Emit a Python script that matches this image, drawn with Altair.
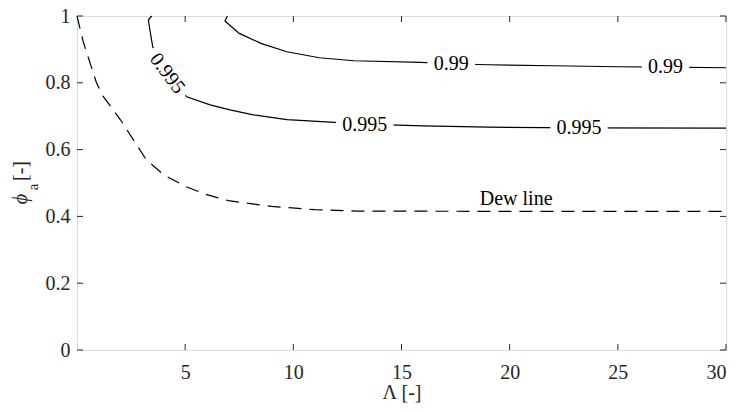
import altair as alt
import pandas as pd

# ---- data ----
dew_x = [0.0, 0.3, 0.9, 1.2, 2.0, 2.6, 3.2, 4.0, 5.0, 6.0, 7.0, 9.0, 11.0, 13.0, 20.0, 30.0]
dew_y = [1.0, 0.92, 0.80, 0.76, 0.69, 0.63, 0.57, 0.525, 0.49, 0.465, 0.447, 0.43, 0.42, 0.416, 0.415, 0.415]

c99_x = [6.95, 6.84, 7.5, 8.5, 9.7, 11.2, 12.8, 15.9, 17.3, 19.0, 22.0, 25.0, 27.2, 30.0]
c99_y = [1.0, 0.985, 0.948, 0.918, 0.893, 0.875, 0.866, 0.861, 0.857, 0.854, 0.851, 0.848, 0.847, 0.845]

c995_x = [3.45, 3.30, 3.37, 3.5, 4.17, 5.07, 6.15, 7.07, 8.15, 9.7, 11.7, 13.3, 16.0, 19.0, 23.2, 30.0]
c995_y = [1.0, 0.988, 0.958, 0.908, 0.828, 0.758, 0.734, 0.719, 0.704, 0.69, 0.682, 0.676, 0.671, 0.667, 0.665, 0.664]

label_text = ["0.995", "0.99", "0.99", "0.995", "0.995"]
label_x = [4.17, 17.3, 27.2, 13.3, 23.2]
label_y = [0.828, 0.856, 0.847, 0.674, 0.665]
label_angle = [53, 0, 0, 0, 0]

dew_label = "Dew line"
dew_label_x = [20.3]
dew_label_y = [0.452]

x_ticks = [5, 10, 15, 20, 25, 30]
y_ticks = [0, 0.2, 0.4, 0.6, 0.8, 1.0]

W, H = 649, 334
FONT = "Liberation Serif"
AX = "#262626"

def frame(xs, ys, name):
    return pd.DataFrame({"x": xs, "y": ys, "i": range(len(xs)), "s": name})

lines_df = pd.concat([frame(c99_x, c99_y, "0.99"), frame(c995_x, c995_y, "0.995")])
dew_df = frame(dew_x, dew_y, "dew")
lab_df = pd.DataFrame({"t": label_text, "x": label_x, "y": label_y, "a": label_angle})
dlab_df = pd.DataFrame({"t": [dew_label], "x": dew_label_x, "y": dew_label_y})
xt_df = pd.DataFrame({"v": x_ticks})
yt_df = pd.DataFrame({"v": y_ticks})

xs = alt.Scale(domain=[0, 30], nice=False, zero=False)
ys = alt.Scale(domain=[0, 1], nice=False, zero=False)

xaxis = alt.Axis(values=x_ticks, format="d", ticks=False, domain=False, grid=False,
                 labelFont=FONT, labelFontSize=20, labelColor=AX, labelPadding=12,
                 title="Λ [-]", titleFont=FONT, titleFontSize=20, titleFontWeight="normal",
                 titleColor=AX, titlePadding=0)
yaxis = alt.Axis(values=y_ticks, ticks=False, domain=False, grid=False,
                 labelFont=FONT, labelFontSize=20, labelColor=AX, labelPadding=7,
                 labelExpr="datum.value == 0 ? '0' : datum.value == 1 ? '1' : format(datum.value, '.1f')",
                 title=None)

base_lines = alt.Chart(lines_df).mark_line(color="black", strokeWidth=1.2).encode(
    x=alt.X("x:Q", scale=xs, axis=xaxis),
    y=alt.Y("y:Q", scale=ys, axis=yaxis),
    detail="s:N",
    order="i:Q",
)

dew = alt.Chart(dew_df).mark_line(color="black", strokeWidth=1.2, strokeDash=[13, 8]).encode(
    x=alt.X("x:Q", scale=xs), y=alt.Y("y:Q", scale=ys), order="i:Q"
)

halo = alt.Chart(lab_df).mark_text(font=FONT, fontSize=20, stroke="white", strokeWidth=14,
                                   fill="white", baseline="middle", align="center").encode(
    x=alt.X("x:Q", scale=xs), y=alt.Y("y:Q", scale=ys), text="t:N", angle=alt.Angle("a:Q", scale=None)
)
labels = alt.Chart(lab_df).mark_text(font=FONT, fontSize=20, color="black",
                                     baseline="middle", align="center").encode(
    x=alt.X("x:Q", scale=xs), y=alt.Y("y:Q", scale=ys), text="t:N", angle=alt.Angle("a:Q", scale=None)
)
dlab = alt.Chart(dlab_df).mark_text(font=FONT, fontSize=20, color="black",
                                    baseline="middle", align="center").encode(
    x=alt.X("x:Q", scale=xs), y=alt.Y("y:Q", scale=ys), text="t:N"
)

tick_len = 6
bt = alt.Chart(xt_df).mark_rule(color=AX, strokeWidth=1).encode(
    x=alt.X("v:Q", scale=xs), y=alt.value(H), y2=alt.value(H - tick_len))
tt = alt.Chart(xt_df).mark_rule(color=AX, strokeWidth=1).encode(
    x=alt.X("v:Q", scale=xs), y=alt.value(0), y2=alt.value(tick_len))
lt = alt.Chart(yt_df).mark_rule(color=AX, strokeWidth=1).encode(
    y=alt.Y("v:Q", scale=ys), x=alt.value(0), x2=alt.value(tick_len))
rt = alt.Chart(yt_df).mark_rule(color=AX, strokeWidth=1).encode(
    y=alt.Y("v:Q", scale=ys), x=alt.value(W), x2=alt.value(W - tick_len))

# y-axis title: italic phi with subscript a, then [-]
yt_phi = alt.Chart(pd.DataFrame({"t": ["ϕ"]})).mark_text(font=FONT, fontSize=20, fontStyle="italic", color=AX,
                                        angle=270, align="center", baseline="middle").encode(
    text="t:N", x=alt.value(-56), y=alt.value(183))
yt_a = alt.Chart(pd.DataFrame({"t": ["a"]})).mark_text(font=FONT, fontSize=15, color=AX,
                                        angle=270, align="center", baseline="middle").encode(
    text="t:N", x=alt.value(-44), y=alt.value(171))
yt_b = alt.Chart(pd.DataFrame({"t": ["[-]"]})).mark_text(font=FONT, fontSize=20, color=AX,
                                        angle=270, align="center", baseline="middle").encode(
    text="t:N", x=alt.value(-56), y=alt.value(155))

chart = alt.layer(base_lines, dew, halo, labels, dlab, bt, tt, lt, rt, yt_phi, yt_a, yt_b).properties(
    width=W, height=H,
    autosize=alt.AutoSizeParams(type="none"),
    padding={"left": 69, "top": 8, "right": 8, "bottom": 54},
).configure_view(stroke=AX, strokeWidth=1.2).configure(background="white")

chart.save("out.html", embed_options={"renderer": "svg", "actions": False})
